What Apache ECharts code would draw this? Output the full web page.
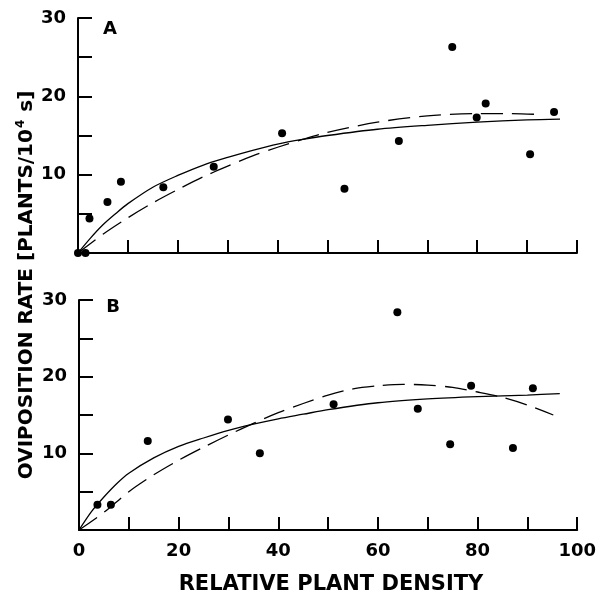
<!DOCTYPE html>
<html>
<head>
<meta charset="utf-8">
<script src="https://cdn.jsdelivr.net/npm/echarts@6/dist/echarts.min.js"></script>
<style>
html,body{margin:0;padding:0;background:#fff;}
#chart{width:599px;height:597px;}
</style>
</head>
<body>
<div id="chart"></div>
<script>
// ---- Data ----
var scatterA_x = [0, 1.5, 2.3, 5.9, 8.6, 17.1, 27.2, 40.9, 53.4, 64.3, 75.0, 79.9, 81.7, 90.6, 95.4];
var scatterA_y = [0, 0, 4.4, 6.5, 9.1, 8.4, 11.0, 15.3, 8.2, 14.3, 26.3, 17.3, 19.1, 12.6, 18.0];

var solidA_x = [0, 2.5, 5, 7.5, 10, 15, 20, 25, 30, 35, 40, 45, 50, 60, 70, 80, 90, 96.6];
var solidA_y = [0, 1.9, 3.6, 5.0, 6.3, 8.4, 9.9, 11.2, 12.2, 13.1, 13.9, 14.5, 15.0, 15.8, 16.3, 16.7, 17.0, 17.1];

var dashA_x = [0, 5, 10, 15, 20, 25, 30, 35, 40, 45, 50, 60, 70, 80, 86, 92];
var dashA_y = [0, 2.4, 4.5, 6.4, 8.1, 9.7, 11.1, 12.4, 13.5, 14.5, 15.4, 16.7, 17.5, 17.8, 17.8, 17.7];

var scatterB_x = [3.7, 6.4, 13.8, 29.9, 36.3, 51.1, 63.9, 68.0, 74.5, 78.7, 87.1, 91.1];
var scatterB_y = [3.3, 3.3, 11.6, 14.4, 10.0, 16.4, 28.4, 15.8, 11.2, 18.8, 10.7, 18.5];

var solidB_x = [0, 2.5, 5, 7.5, 10, 15, 20, 25, 30, 35, 40, 45, 50, 60, 70, 80, 90, 96.5];
var solidB_y = [0, 2.4, 4.3, 6.0, 7.4, 9.4, 10.9, 12.0, 13.0, 13.8, 14.5, 15.1, 15.7, 16.6, 17.1, 17.4, 17.6, 17.8];

var dashB_x = [0, 5, 10, 15, 20, 25, 30, 35, 40, 45, 50, 55, 60, 65, 70, 75, 80, 85, 90, 95.2];
var dashB_y = [0, 2.3, 5.0, 7.2, 9.1, 10.8, 12.4, 13.9, 15.3, 16.5, 17.6, 18.4, 18.8, 19.0, 18.9, 18.6, 18.0, 17.3, 16.3, 15.0];

var yTickLabels = [10, 20, 30];
var xTickLabels = [0, 20, 40, 60, 80, 100];
var panelLabels = ['A', 'B'];
var xTitle = 'RELATIVE PLANT DENSITY';

function pairs(xs, ys) { return xs.map(function (x, i) { return [x, ys[i]]; }); }

var FONT = 'DejaVu Sans';
var axisLineStyle = { color: '#000', width: 2 };

function xAxisCfg(gridIndex, showLabels) {
  return {
    type: 'value', gridIndex: gridIndex, min: 0, max: 100, interval: 10,
    axisLine: { show: true, onZero: false, lineStyle: axisLineStyle },
    axisTick: { show: true, inside: true, length: 13, lineStyle: { color: '#000', width: 2 } },
    splitLine: { show: false },
    axisLabel: {
      show: showLabels, margin: 12, color: '#000', fontFamily: FONT, fontWeight: 'bold', fontSize: 18,
      formatter: function (v) { return xTickLabels.indexOf(v) >= 0 ? String(v) : ''; }
    }
  };
}
function yAxisCfg(gridIndex) {
  return {
    type: 'value', gridIndex: gridIndex, min: 0, max: 30, interval: 5,
    axisLine: { show: true, onZero: false, lineStyle: axisLineStyle },
    axisTick: { show: true, inside: true, length: 14, lineStyle: { color: '#000', width: 2 } },
    splitLine: { show: false },
    axisLabel: {
      margin: 12, color: '#000', fontFamily: FONT, fontWeight: 'bold', fontSize: 18,
      formatter: function (v) { return yTickLabels.indexOf(v) >= 0 ? String(v) : ''; }
    }
  };
}
function lineSeries(idx, data, dashed) {
  return {
    type: 'line', xAxisIndex: idx, yAxisIndex: idx, data: data,
    smooth: 0.3, showSymbol: false, silent: true,
    lineStyle: { color: '#000', width: 1.3, type: dashed ? [22, 9] : 'solid' },
    z: 2
  };
}
function scatterSeries(idx, data) {
  return {
    type: 'scatter', xAxisIndex: idx, yAxisIndex: idx, data: data,
    symbol: 'circle', symbolSize: 8, itemStyle: { color: '#000', opacity: 1 }, z: 3
  };
}

var chart = echarts.init(document.getElementById('chart'), null, { renderer: 'canvas' });
chart.setOption({
  backgroundColor: '#fff',
  animation: false,
  grid: [
    { left: 78, top: 18, width: 499, height: 235 },
    { left: 79, top: 300, width: 500, height: 230 }
  ],
  xAxis: [xAxisCfg(0, false), xAxisCfg(1, true)],
  yAxis: [yAxisCfg(0), yAxisCfg(1)],
  graphic: [
    { type: 'text', x: 110, y: 29, style: { text: panelLabels[0], font: 'bold 18px ' + FONT, fill: '#000', align: 'center', verticalAlign: 'middle' } },
    { type: 'text', x: 113, y: 307, style: { text: panelLabels[1], font: 'bold 18px ' + FONT, fill: '#000', align: 'center', verticalAlign: 'middle' } },
    { type: 'text', x: 331, y: 585, style: { text: xTitle, font: 'bold 21px ' + FONT, fill: '#000', align: 'center', verticalAlign: 'middle' } },
    {
      type: 'text', x: 27, y: 285, rotation: Math.PI / 2,
      style: {
        text: '{a|OVIPOSITION RATE [PLANTS/10}{s|4}{a| s]}',
        align: 'center', verticalAlign: 'middle',
        rich: {
          a: { fontFamily: FONT, fontWeight: 'bold', fontSize: 20, color: '#000' },
          s: { fontFamily: FONT, fontWeight: 'bold', fontSize: 12, color: '#000', padding: [0, 1, 12, 1] }
        }
      }
    }
  ],
  series: [
    lineSeries(0, pairs(solidA_x, solidA_y), false),
    lineSeries(0, pairs(dashA_x, dashA_y), true),
    scatterSeries(0, pairs(scatterA_x, scatterA_y)),
    lineSeries(1, pairs(solidB_x, solidB_y), false),
    lineSeries(1, pairs(dashB_x, dashB_y), true),
    scatterSeries(1, pairs(scatterB_x, scatterB_y))
  ]
});
</script>
</body>
</html>
